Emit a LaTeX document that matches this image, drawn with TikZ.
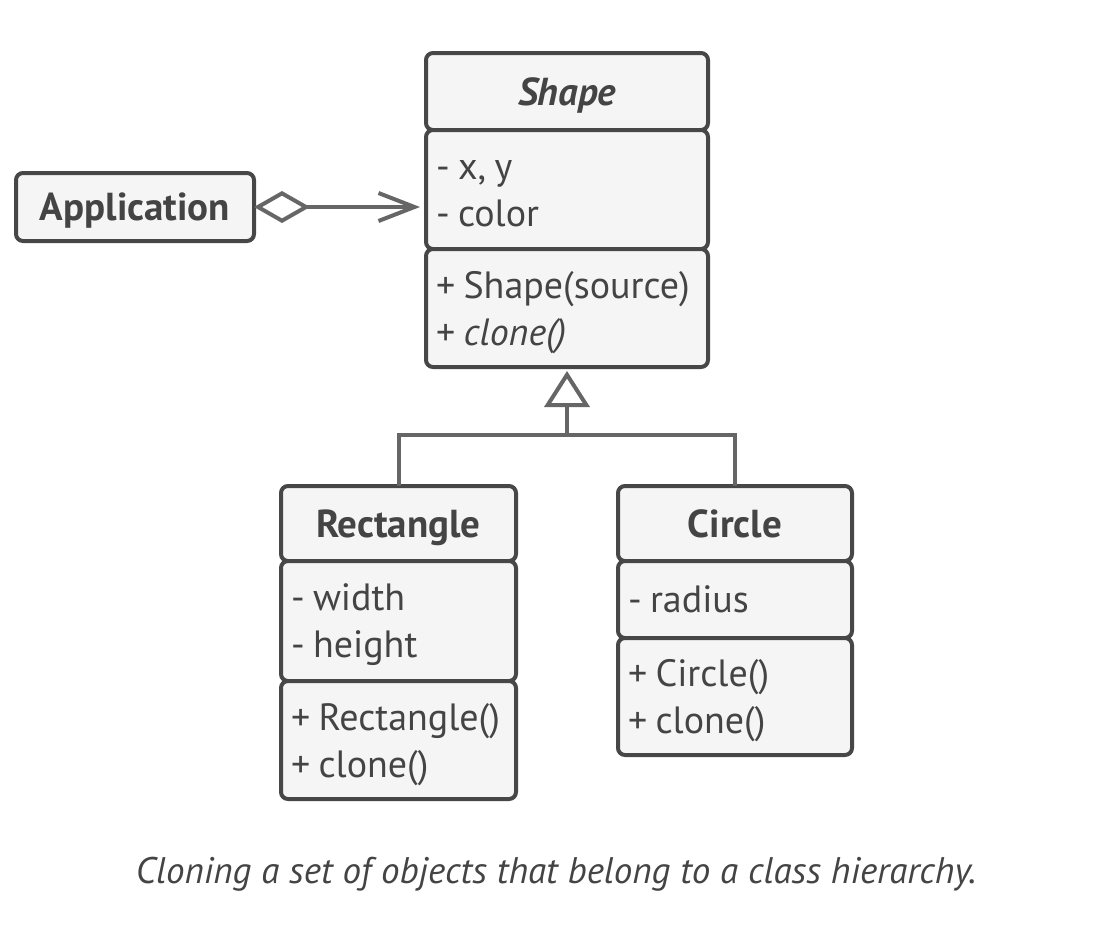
\documentclass[tikz,border=0pt]{standalone}
\usepackage{fontspec}
\setmainfont{PT Sans}
\usetikzlibrary{arrows.meta,positioning}

\definecolor{boxline}{HTML}{474747}
\definecolor{boxfill}{HTML}{F5F5F5}
\definecolor{linkline}{HTML}{666666}
\definecolor{inktext}{HTML}{444444}

\newcommand\tightsp{\frenchspacing\spaceskip=.22em plus .05em\relax}

\tikzset{
  part/.style={draw=boxline, fill=boxfill, line width=4pt, rounded corners=7pt,
    text=inktext, anchor=north west, inner xsep=10pt, inner ysep=0pt, outer sep=0pt,
    text depth=47pt, align=left, font=\fontsize{38}{47}\selectfont,
    execute at begin node=\tightsp},
  single/.style={part, text depth=0pt},
  head/.style={single, align=center, font=\fontsize{39}{44}\selectfont\bfseries},
  link/.style={draw=linkline, line width=4pt},
}

\begin{document}
\begin{tikzpicture}[x=1pt,y=-1pt]
  \useasboundingbox (0,0) rectangle (1104,946);

  % Shape
  \node[head, text width=262pt, minimum height=77pt] (shapehead) at (426,53) {\itshape Shape};
  \node[part, text depth=40pt, text width=262pt, minimum height=119pt] (shapeattr) at (426,130) {- x, y\\- color};
  \node[part, text width=262pt, minimum height=118pt] (shapemeth) at (426,249) {+ Shape(source)\\+ \textit{clone()}};

  % Application
  \node[head, anchor=center, minimum width=238pt, minimum height=68pt] (app) at (135,207) {Application};

  % Rectangle
  \node[head, text width=215pt, minimum height=75pt] (recthead) at (281,486) {Rectangle};
  \node[part, text width=215pt, minimum height=120pt] (rectattr) at (281,561) {- width\\- height};
  \node[part, text width=215pt, minimum height=118pt] (rectmeth) at (281,681) {+ Rectangle()\\+ clone()};

  % Circle
  \node[head, text width=214pt, minimum height=75pt] (circhead) at (618,486) {Circle};
  \node[single, text width=214pt, minimum height=77pt] (circattr) at (618,561) {- radius};
  \node[part, text width=214pt, minimum height=117pt] (circmeth) at (618,638) {+ Circle()\\+ clone()};

  % links
  \draw[link, {Diamond[open,length=56pt,width=32pt]}-{Straight Barb[length=36pt,width=28pt]}, shorten >=6pt]
    (app.east) -- (app.east -| shapeattr.west);

  \coordinate (fork) at (shapemeth.south |- 0,435);
  \draw[link, -{Triangle[open,length=36pt,width=45pt]}, shorten >=4pt] (fork) -- (shapemeth.south);
  \draw[link] (recthead.north) |- (fork) -| (circhead.north);

  \node[text=inktext, font=\fontsize{37}{42}\selectfont\itshape] (caption) at (556,874)
    {Cloning a set of objects that belong to a class hierarchy.};
\end{tikzpicture}
\end{document}
